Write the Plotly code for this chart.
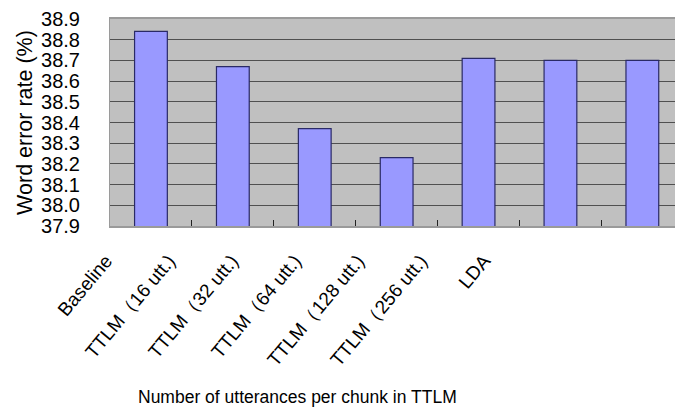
import plotly.graph_objects as go

categories = ["Baseline", "TTLM\uff0816 utt.)", "TTLM\uff0832 utt.)", "TTLM\uff0864 utt.)",
              "TTLM\uff08128 utt.)", "TTLM\uff08256 utt.)", "LDA"]
wer_values = [38.84, 38.67, 38.37, 38.23, 38.71, 38.70, 38.70]
y_ticks = [37.9, 38.0, 38.1, 38.2, 38.3, 38.4, 38.5, 38.6, 38.7, 38.8, 38.9]
y_ticktext = ["%.1f" % v for v in y_ticks]
x_title = "Number of utterances per chunk in TTLM"
y_title = "Word error rate (%)"

W, H = 675, 411
ML, MT, MB = 110, 19, 185
plot_w = W - ML
# label axis geometry (pixels): ticks placed inside the plot, labels shifted left
lab_shift = 20
lab_start, lab_step = 106 + lab_shift, 63
r_span = plot_w / lab_step
r0 = (ML - lab_start) / lab_step

fig = go.Figure()
fig.add_trace(go.Bar(
    x=list(range(len(categories))), y=wer_values, width=0.4,
    marker=dict(color="#9999FF", line=dict(color="#2A2A66", width=1.2)),
    hoverinfo="skip", showlegend=False,
))
fig.add_trace(go.Scatter(
    x=list(range(len(categories))), y=wer_values, mode="none",
    xaxis="x2", hoverinfo="skip", showlegend=False,
))

fig.add_annotation(
    text=x_title, xref="paper", yref="paper",
    x=(297 - ML) / plot_w, y=-(397 - (H - MB)) / (H - MT - MB),
    xanchor="center", yanchor="middle", showarrow=False,
    font=dict(size=17.5, color="black"),
)

fig.update_layout(
    width=W, height=H,
    margin=dict(l=ML, r=0, t=MT, b=MB, pad=0, autoexpand=False),
    paper_bgcolor="white", plot_bgcolor="#C0C0C0",
    font=dict(family="Liberation Sans, Arial, sans-serif", color="black"),
    xaxis=dict(
        range=[-0.5, -0.5 + plot_w / 81.9], tickmode="array",
        tickvals=[i + 0.5 for i in range(len(categories) - 1)],
        ticktext=[""] * (len(categories) - 1),
        ticks="inside", ticklen=6, tickcolor="#222", tickwidth=1,
        showgrid=False, showline=True, linecolor="#9a9a9a", linewidth=1.5,
        mirror=True, zeroline=False, fixedrange=True, automargin=False,
    ),
    xaxis2=dict(
        overlaying="x", anchor="y", side="bottom",
        range=[r0, r0 + r_span], tickmode="array",
        tickvals=list(range(len(categories))), ticktext=categories,
        tickangle=-50, tickfont=dict(size=19),
        ticks="", showgrid=False, showline=False, zeroline=False,
        ticklabelstandoff=19, ticklabelshift=-lab_shift, automargin=False,
    ),
    yaxis=dict(
        range=[37.9, 38.9], tickmode="array", tickvals=y_ticks, ticktext=y_ticktext,
        tickfont=dict(size=20), ticks="", ticklabelstandoff=25,
        showgrid=True, gridcolor="#505050", gridwidth=1,
        showline=True, linecolor="#9a9a9a", linewidth=1, mirror=False,
        zeroline=False, automargin=False,
        title=dict(text=y_title, font=dict(size=21.5), standoff=2),
    ),
    bargap=0.6,
)
fig.write_html("out.html", config={"displayModeBar": False},
               post_script="document.body.style.margin='0';document.body.style.overflow='hidden';")
